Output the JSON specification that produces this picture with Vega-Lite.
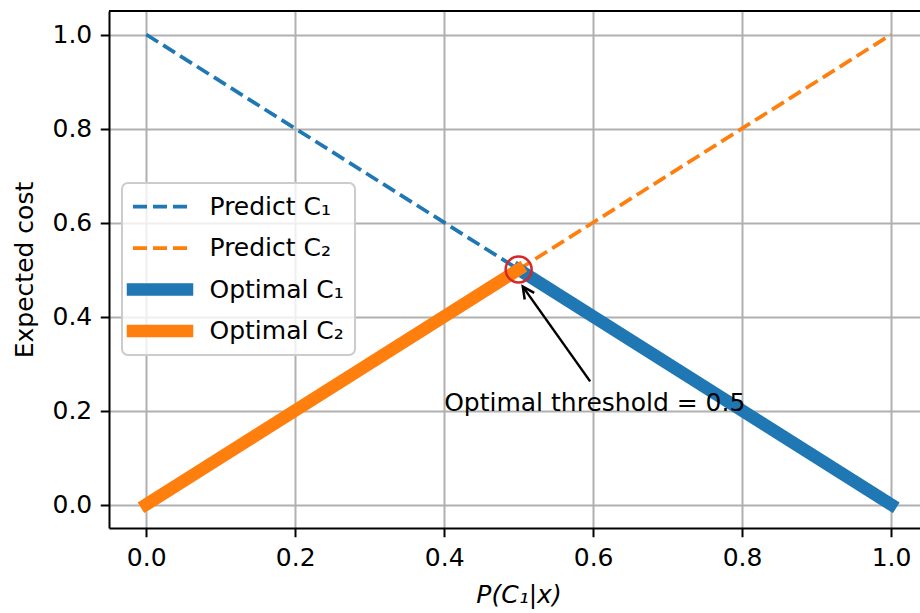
{
  "$schema": "https://vega.github.io/schema/vega-lite/v6.json",
  "width": 811,
  "height": 517,
  "autosize": {"type": "none"},
  "padding": {"left": 109, "top": 11, "right": 0, "bottom": 85},
  "background": "white",
  "datasets": {
    "dashed": [
      {"series": "Predict C₁", "p": 0, "cost": 1},
      {"series": "Predict C₁", "p": 1, "cost": 0},
      {"series": "Predict C₂", "p": 0, "cost": 0},
      {"series": "Predict C₂", "p": 1, "cost": 1}
    ],
    "thick": [
      {"series": "Optimal C₁", "p": 0.5, "cost": 0.5},
      {"series": "Optimal C₁", "p": 1, "cost": 0},
      {"series": "Optimal C₂", "p": 0, "cost": 0},
      {"series": "Optimal C₂", "p": 0.5, "cost": 0.5}
    ],
    "marker": [{"p": 0.5, "cost": 0.5}],
    "arrow": [{"p": 0.596, "cost": 0.262, "p2": 0.5056, "cost2": 0.4636}],
    "head": [{"p": 0.5056, "cost": 0.4636}],
    "note": [{"p": 0.4, "cost": 0.2, "label": "Optimal threshold = 0.5"}],
    "spine": [{"cost": 1.05}]
  },
  "layer": [
    {
      "data": {"name": "dashed"},
      "mark": {"type": "line", "strokeCap": "butt", "strokeWidth": 3.75},
      "encoding": {
        "x": {
          "field": "p", "type": "quantitative",
          "scale": {"domain": [-0.05, 1.0389], "nice": false, "zero": false},
          "axis": {"values": [0, 0.2, 0.4, 0.6, 0.8, 1.0], "format": ".1f", "title": "P(C₁|x)", "titleFontStyle": "italic", "titleX": 409.5, "titlePadding": 12}
        },
        "y": {
          "field": "cost", "type": "quantitative",
          "scale": {"domain": [-0.05, 1.05], "nice": false, "zero": false},
          "axis": {"values": [0, 0.2, 0.4, 0.6, 0.8, 1.0], "format": ".1f", "title": "Expected cost", "titlePadding": 14}
        },
        "color": {
          "field": "series", "type": "nominal",
          "scale": {"domain": ["Predict C₁", "Predict C₂", "Optimal C₁", "Optimal C₂"], "range": ["#1f77b4", "#ff7f0e", "#1f77b4", "#ff7f0e"]},
          "legend": {
            "title": null, "orient": "none", "legendX": 13, "legendY": 172, "columns": 1,
            "encode": {"symbols": {"update": {
              "size": {"value": 100},
              "strokeJoin": {"value": "bevel"},
              "strokeCap": {"signal": "indexof(['Optimal C₁', 'Optimal C₂'], datum.value) >= 0 ? 'square' : 'butt'"},
              "strokeWidth": {"signal": "indexof(['Optimal C₁', 'Optimal C₂'], datum.value) >= 0 ? 12.5 : 3.75"}
            }}}
          }
        },
        "strokeDash": {
          "field": "series", "type": "nominal",
          "scale": {"domain": ["Predict C₁", "Predict C₂", "Optimal C₁", "Optimal C₂"], "range": [[14, 6], [14, 6], [1, 0], [1, 0]]},
          "legend": {"title": null, "orient": "none", "legendX": 13, "legendY": 172, "columns": 1}
        }
      }
    },
    {
      "data": {"name": "thick"},
      "mark": {"type": "line", "strokeCap": "square", "strokeWidth": 12.5},
      "encoding": {
        "x": {"field": "p", "type": "quantitative"},
        "y": {"field": "cost", "type": "quantitative"},
        "color": {"field": "series", "type": "nominal"},
        "strokeDash": {"field": "series", "type": "nominal"}
      }
    },
    {
      "data": {"name": "marker"},
      "mark": {"type": "point", "shape": "circle", "size": 676, "filled": false, "stroke": "#d62728", "strokeWidth": 2.5, "opacity": 1},
      "encoding": {
        "x": {"field": "p", "type": "quantitative"},
        "y": {"field": "cost", "type": "quantitative"}
      }
    },
    {
      "data": {"name": "arrow"},
      "mark": {"type": "rule", "color": "black", "strokeWidth": 2.5},
      "encoding": {
        "x": {"field": "p", "type": "quantitative"},
        "y": {"field": "cost", "type": "quantitative"},
        "x2": {"field": "p2"},
        "y2": {"field": "cost2"}
      }
    },
    {
      "data": {"name": "head"},
      "mark": {"type": "point", "shape": "M-0.5,1L0,0L0.5,1", "angle": 325, "size": 540, "filled": false, "stroke": "black", "strokeWidth": 2.5, "opacity": 1},
      "encoding": {
        "x": {"field": "p", "type": "quantitative"},
        "y": {"field": "cost", "type": "quantitative"}
      }
    },
    {
      "data": {"name": "note"},
      "mark": {"type": "text", "align": "left", "baseline": "alphabetic", "font": "DejaVu Sans", "fontSize": 25, "color": "black"},
      "encoding": {
        "x": {"field": "p", "type": "quantitative"},
        "y": {"field": "cost", "type": "quantitative"},
        "text": {"field": "label"}
      }
    },
    {
      "data": {"name": "spine"},
      "mark": {"type": "rule", "color": "black", "strokeWidth": 2},
      "encoding": {
        "y": {"field": "cost", "type": "quantitative"}
      }
    }
  ],
  "config": {
    "view": {"stroke": null},
    "axis": {
      "labelFont": "DejaVu Sans", "labelFontSize": 25, "labelColor": "#000000",
      "tickColor": "#000000", "tickWidth": 2, "tickSize": 8.75, "labelPadding": 8.5,
      "domainColor": "#000000", "domainWidth": 2,
      "gridColor": "#b0b0b0", "gridWidth": 2,
      "titleFont": "DejaVu Sans", "titleFontSize": 25, "titleColor": "#000000", "titleFontWeight": "normal",
      "labelFlush": false, "labelOverlap": false
    },
    "legend": {
      "labelFont": "DejaVu Sans", "labelFontSize": 25, "labelColor": "#000000",
      "symbolType": "M-5.4,0L5.4,0", "symbolSize": 100, "symbolOffset": 14.5, "labelOffset": 37, "rowPadding": 15.5,
      "padding": 11, "fillColor": "rgba(255,255,255,0.8)", "strokeColor": "#cccccc",
      "strokeWidth": 2, "cornerRadius": 6, "labelLimit": 300
    }
  }
}
